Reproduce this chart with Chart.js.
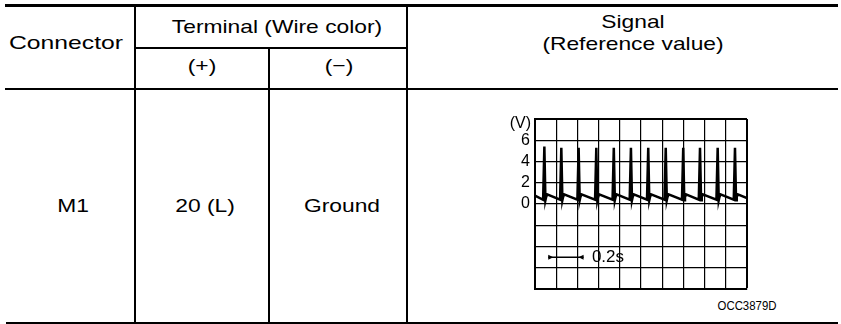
<!DOCTYPE html>
<html>
<head>
<meta charset="utf-8">
<script src="https://cdn.jsdelivr.net/npm/chart.js@4.4.1/dist/chart.umd.min.js"></script>
<style>
  body { margin: 0; background: #fff; width: 841px; height: 324px; position: relative; overflow: hidden; font-family: "Liberation Sans", Arial, sans-serif; color: #000; }
  .ln { position: absolute; background: #000; }
  .t { position: absolute; white-space: nowrap; line-height: 1; transform: translateX(-50%) scaleX(1.2); }
  .hd { font-size: 19px; }
  .bd { font-size: 19px; }
  #chartBox { position: absolute; left: 490px; top: 106px; width: 260px; height: 196px; }
</style>
</head>
<body>
<!-- table rules -->
<div class="ln" style="left:5px;top:4px;width:833px;height:3px"></div>
<div class="ln" style="left:134px;top:47px;width:274px;height:1.5px"></div>
<div class="ln" style="left:5px;top:88px;width:833px;height:2px"></div>
<div class="ln" style="left:6px;top:322px;width:832px;height:2px"></div>
<div class="ln" style="left:134px;top:7px;width:2px;height:315px"></div>
<div class="ln" style="left:268px;top:47px;width:2px;height:275px"></div>
<div class="ln" style="left:406px;top:7px;width:2px;height:315px"></div>

<!-- header text -->
<div class="t hd" style="left:66px;top:33px;transform:translateX(-50%) scaleX(1.3)">Connector</div>
<div class="t hd" style="left:277px;top:17px">Terminal (Wire color)</div>
<div class="t hd" style="left:202px;top:56px">(+)</div>
<div class="t hd" style="left:339px;top:56px">(−)</div>
<div class="t hd" style="left:633px;top:12px">Signal</div>
<div class="t hd" style="left:633px;top:34px">(Reference value)</div>

<!-- body text -->
<div class="t bd" style="left:73px;top:196px">M1</div>
<div class="t bd" style="left:205px;top:196px">20 (L)</div>
<div class="t bd" style="left:342px;top:196px">Ground</div>
<div class="t" style="left:747px;top:300px;font-size:12px;transform:translateX(-50%) scaleX(0.95)">OCC3879D</div>

<div id="chartBox"><canvas id="scopeChart"></canvas></div>

<script>
// Waveform (time in ms, 0.12 s per division)
const waveTime = [0, 46, 53, 59, 63, 69, 142, 149, 155, 159, 165, 240, 247, 253, 257, 263,
  340, 347, 353, 357, 363, 439, 446, 452, 456, 462, 536, 543, 549, 553, 559,
  634, 641, 647, 651, 657, 733, 740, 746, 750, 756, 832, 839, 845, 849, 855,
  927, 934, 940, 944, 950, 1027, 1034, 1040, 1044, 1050, 1125, 1132, 1138, 1142, 1148, 1200];
const waveVolt = [0.8, 0.4, 5.4, 0.35, 0.65, 0.9, 0.4, 5.3, 0.35, 0.65, 0.9, 0.4, 5.3, 0.35, 0.65, 0.9,
  0.4, 5.3, 0.35, 0.65, 0.9, 0.4, 5.3, 0.35, 0.65, 0.9, 0.4, 5.3, 0.35, 0.65, 0.9,
  0.4, 5.3, 0.35, 0.65, 0.9, 0.4, 5.3, 0.35, 0.65, 0.9, 0.4, 5.3, 0.35, 0.65, 0.9,
  0.4, 5.3, 0.35, 0.65, 0.9, 0.4, 5.3, 0.35, 0.65, 0.9, 0.4, 5.3, 0.35, 0.65, 0.9, 0.55];

// Axis range and labels
const yMin = -8;
const yMax = 8;
const yStep = 2;
const yTickLabels = [0, 2, 4, 6];
const yUnit = "(V)";
const xMax = 1200;
const xStep = 120;

// Time scale marker: 0.2 s arrow
const markerStart = 75;
const markerEnd = 275;
const markerVolt = -5;
const markerLabel = "0.2s";

const points = waveTime.map((t, i) => ({ x: t, y: waveVolt[i] }));

// Draw "(V)" and the 0.2s arrow on top of the grid
const scopeLabels = {
  id: "scopeLabels",
  afterDatasetsDraw(chart) {
    const ctx = chart.ctx;
    const xs = chart.scales.x;
    const ys = chart.scales.y;
    ctx.save();
    ctx.fillStyle = "#000";
    ctx.strokeStyle = "#000";
    ctx.font = "16px 'Liberation Sans', Arial, sans-serif";
    ctx.textAlign = "right";
    ctx.textBaseline = "middle";
    ctx.fillText(yUnit, chart.chartArea.left - 4, chart.chartArea.top + 5);

    const x1 = xs.getPixelForValue(markerStart);
    const x2 = xs.getPixelForValue(markerEnd);
    const y = ys.getPixelForValue(markerVolt);
    ctx.lineWidth = 1.5;
    ctx.beginPath();
    ctx.moveTo(x1, y);
    ctx.lineTo(x2, y);
    ctx.stroke();
    // small arrow heads
    ctx.beginPath();
    ctx.moveTo(x1 + 5, y);
    ctx.lineTo(x1, y - 2.5);
    ctx.lineTo(x1, y + 2.5);
    ctx.closePath();
    ctx.fill();
    ctx.beginPath();
    ctx.moveTo(x2 - 5, y);
    ctx.lineTo(x2, y - 2.5);
    ctx.lineTo(x2, y + 2.5);
    ctx.closePath();
    ctx.fill();

    ctx.font = "17px 'Liberation Sans', Arial, sans-serif";
    ctx.textAlign = "left";
    ctx.fillText(markerLabel, xs.getPixelForValue(322), y);
    ctx.restore();
  },
};

const chart = new Chart(document.getElementById("scopeChart"), {
  type: "line",
  data: {
    datasets: [
      {
        data: points,
        borderColor: "#000",
        borderWidth: 2.5,
        pointRadius: 0,
        tension: 0,
        fill: false,
      },
    ],
  },
  options: {
    responsive: true,
    maintainAspectRatio: false,
    animation: false,
    events: [],
    layout: { padding: { top: 0, right: 3, bottom: 0, left: 0 } },
    plugins: { legend: { display: false }, tooltip: { enabled: false } },
    scales: {
      x: {
        type: "linear",
        min: 0,
        max: xMax,
        ticks: { display: false, stepSize: xStep },
        grid: {
          color: "#000",
          drawTicks: false,
          lineWidth: (c) => (c.tick && c.tick.value === xMax ? 2 : 1.2),
        },
        border: { display: true, color: "#000", width: 2 },
        afterFit: (scale) => {
          scale.height = 0;
        },
      },
      y: {
        min: yMin,
        max: yMax,
        ticks: {
          stepSize: yStep,
          autoSkip: false,
          padding: 5,
          color: "#000",
          font: { family: "'Liberation Sans', Arial, sans-serif", size: 16, lineHeight: 1 },
          callback: (v) => (yTickLabels.includes(v) ? String(v) : ""),
        },
        grid: {
          color: "#000",
          drawTicks: false,
          lineWidth: (c) => (c.tick && c.tick.value === yMax ? 2 : 1.2),
        },
        border: { display: true, color: "#000", width: 2 },
        afterFit: (scale) => {
          scale.width = 45;
        },
      },
    },
  },
  plugins: [scopeLabels],
});
</script>
</body>
</html>
